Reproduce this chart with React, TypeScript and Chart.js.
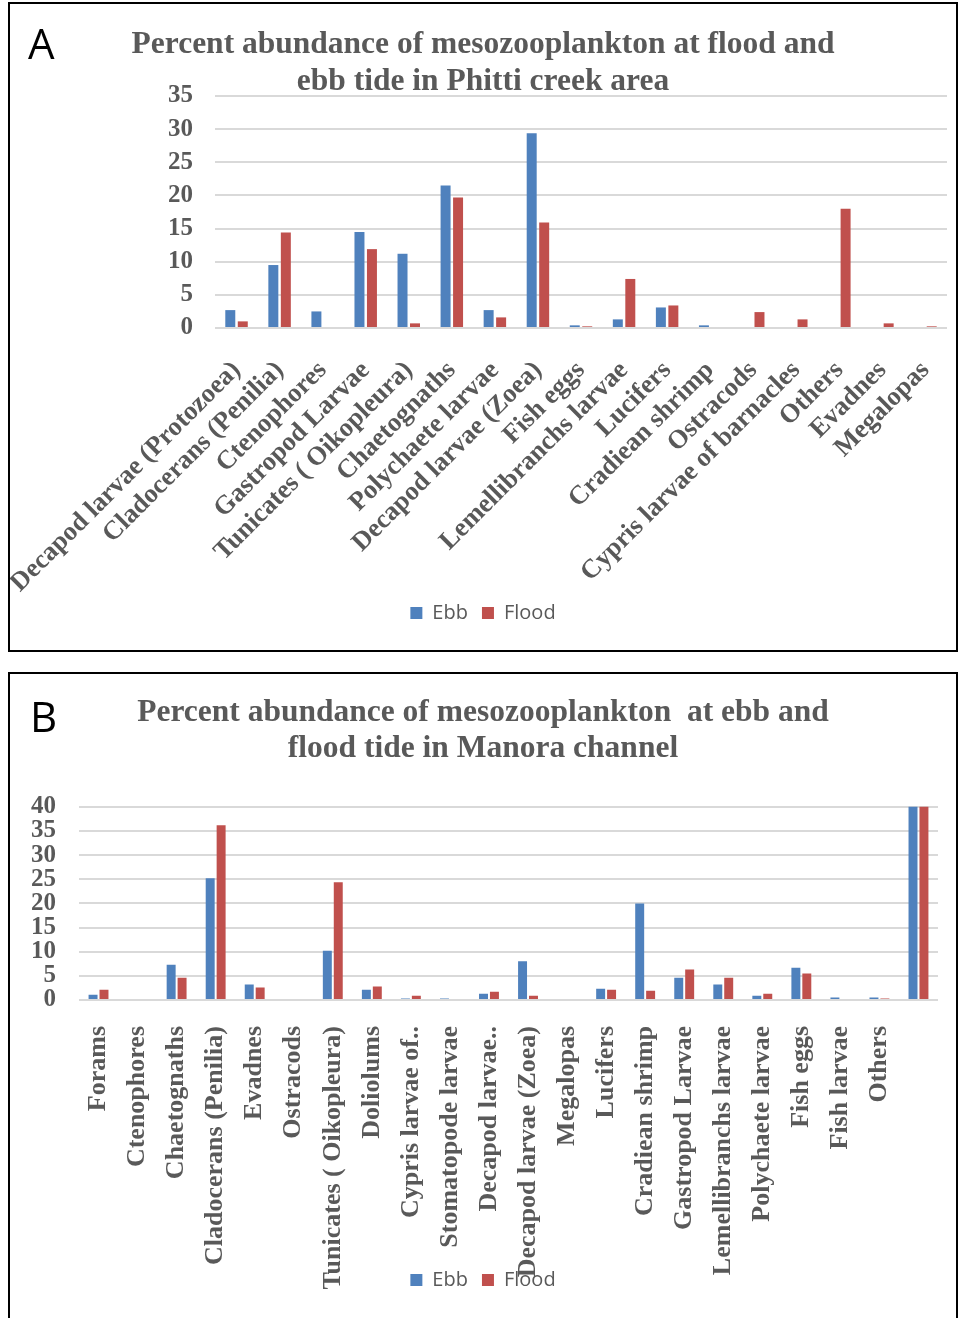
import React, { useEffect, useRef } from "react";
import { Chart, registerables } from "chart.js";

Chart.register(...registerables);

// ---------- Panel A data ----------
const titleA = [
  "Percent abundance of mesozooplankton at flood and",
  "ebb tide in Phitti creek area",
];
const categoriesA = [
  "Decapod larvae (Protozoea)",
  "Cladocerans (Penilia)",
  "Ctenophores",
  "Gastropod Larvae",
  "Tunicates ( Oikopleura)",
  "Chaetognaths",
  "Polychaete larvae",
  "Decapod larvae (Zoea)",
  "Fish eggs",
  "Lemellibranchs larvae",
  "Lucifers",
  "Cradiean shrimp",
  "Ostracods",
  "Cypris larvae of barnacles",
  "Others",
  "Evadnes",
  "Megalopas",
];
const ebbA = [2.7, 9.5, 2.5, 14.5, 11.2, 21.5, 2.7, 29.4, 0.4, 1.3, 3.1, 0.4, 0, 0, 0, 0, 0];
const floodA = [1.0, 14.4, 0, 11.9, 0.7, 19.7, 1.6, 15.9, 0.25, 7.4, 3.4, 0, 2.4, 1.3, 18.0, 0.7, 0.25];
const yTicksA = { min: 0, max: 35, step: 5 };

// ---------- Panel B data ----------
const titleB = [
  "Percent abundance of mesozooplankton  at ebb and",
  "flood tide in Manora channel",
];
const categoriesB = [
  "Forams",
  "Ctenophores",
  "Chaetognaths",
  "Cladocerans (Penilia)",
  "Evadnes",
  "Ostracods",
  "Tunicates ( Oikopleura)",
  "Doliolums",
  "Cypris larvae of..",
  "Stomatopode larvae",
  "Decapod larvae..",
  "Decapod larvae (Zoea)",
  "Megalopas",
  "Lucifers",
  "Cradiean shrimp",
  "Gastropod Larvae",
  "Lemellibranchs larvae",
  "Polychaete larvae",
  "Fish eggs",
  "Fish larvae",
  "Others",
  "",
];
const ebbB = [1.1, 0, 7.3, 25.2, 3.2, 0, 10.2, 2.1, 0.3, 0.3, 1.3, 8.0, 0, 2.35, 20.0, 4.6, 3.2, 0.9, 6.7, 0.5, 0.5, 100];
const floodB = [2.1, 0, 4.6, 36.2, 2.6, 0, 24.4, 2.8, 0.9, 0, 1.7, 0.9, 0, 2.1, 1.9, 6.3, 4.6, 1.3, 5.5, 0, 0.3, 100];
const yTicksB = { min: 0, max: 40, step: 5 };

const seriesNames = ["Ebb", "Flood"];
const seriesColors = ["#4F81BD", "#C0504D"];

const TEXT = "#595959";
const SERIF = '"Liberation Serif", "Times New Roman", serif';
const SANS = '"Open Sans", "Liberation Sans", sans-serif';

type PanelProps = {
  title: string[];
  labels: string[];
  ebb: number[];
  flood: number[];
  yt: { min: number; max: number; step: number };
  width: number;
  height: number;
  rotation: number;
  titlePad: { top: number; bottom: number };
  titleSize: number;
  titleLH: number;
  tickSize: number;
  xTickSize: number;
  yWidth: number;
  yPad: number;
  xHeight: number;
  xPad: number;
  padLeft: number;
  padRight: number;
  padBottom: number;
  cat: number;
  bar: number;
};

function ChartPanel(p: PanelProps) {
  const ref = useRef<HTMLCanvasElement>(null);
  useEffect(() => {
    if (!ref.current) return;
    const chart = new Chart(ref.current, {
      type: "bar",
      data: {
        labels: p.labels,
        datasets: [
          {
            label: seriesNames[0],
            data: p.ebb,
            backgroundColor: seriesColors[0],
            categoryPercentage: p.cat,
            barPercentage: p.bar,
          },
          {
            label: seriesNames[1],
            data: p.flood,
            backgroundColor: seriesColors[1],
            categoryPercentage: p.cat,
            barPercentage: p.bar,
          },
        ],
      },
      options: {
        responsive: false,
        animation: false,
        layout: { padding: { top: 0, right: p.padRight, bottom: p.padBottom, left: p.padLeft } },
        plugins: {
          title: {
            display: true,
            text: p.title,
            color: TEXT,
            font: { family: SERIF, size: p.titleSize, weight: "bold", lineHeight: p.titleLH },
            padding: p.titlePad,
          },
          legend: {
            position: "bottom",
            labels: {
              boxWidth: 12,
              boxHeight: 12,
              color: TEXT,
              font: { family: SANS, size: 20 },
              padding: 14,
            },
          },
          tooltip: { enabled: false },
        },
        scales: {
          x: {
            grid: { display: false, drawTicks: false },
            border: { display: false },
            ticks: {
              autoSkip: false,
              minRotation: p.rotation,
              maxRotation: p.rotation,
              color: TEXT,
              font: { family: SERIF, size: p.xTickSize, weight: "bold" },
              padding: p.xPad,
            },
            afterFit: (s: any) => {
              s.height = p.xHeight;
              s.paddingLeft = 0;
              s.paddingRight = 0;
              // let long category labels run past the axis box, as in the original
              s._computeLabelArea = () => undefined;
            },
          },
          y: {
            min: p.yt.min,
            max: p.yt.max,
            grid: { color: "#D9D9D9", lineWidth: 2, drawTicks: false },
            border: { display: false },
            ticks: {
              autoSkip: false,
              stepSize: p.yt.step,
              color: TEXT,
              font: { family: SERIF, size: p.tickSize, weight: "bold" },
              padding: p.yPad,
            },
            afterFit: (s: any) => {
              s.width = p.yWidth;
            },
          },
        },
      },
    });
    return () => chart.destroy();
  }, []);
  return (
    <canvas
      ref={ref}
      width={p.width}
      height={p.height}
      style={{ display: "block", width: p.width + "px", height: p.height + "px" }}
    />
  );
}

const panelStyle = (top: number, height: number): React.CSSProperties => ({
  position: "absolute",
  left: 8,
  top,
  width: 946,
  height,
  border: "2px solid #000",
  background: "#fff",
  overflow: "hidden",
});

const letterStyle = (left: number, top: number): React.CSSProperties => ({
  position: "absolute",
  left,
  top,
  fontFamily: SANS,
  fontSize: 42,
  lineHeight: "42px",
  color: "#000",
  zIndex: 2,
});

export default function App() {
  return (
    <div style={{ position: "absolute", left: 0, top: 0, width: 960, height: 1318, background: "#fff", overflow: "hidden" }}>
      <div style={panelStyle(2, 646)}>
        <ChartPanel
          title={titleA}
          labels={categoriesA}
          ebb={ebbA}
          flood={floodA}
          yt={yTicksA}
          width={946}
          height={646}
          rotation={45}
          titlePad={{ top: 22, bottom: -4 }}
          titleSize={31.5}
          titleLH={1.175}
          tickSize={25}
          xTickSize={26.5}
          yWidth={196}
          yPad={22}
          xHeight={261}
          xPad={27}
          padLeft={9}
          padRight={9}
          padBottom={17}
          cat={0.58}
          bar={0.8}
        />
      </div>
      <div style={letterStyle(28, 22)}>A</div>

      <div style={panelStyle(672, 680)}>
        <ChartPanel
          title={titleB}
          labels={categoriesB}
          ebb={ebbB}
          flood={floodB}
          yt={yTicksB}
          width={946}
          height={644}
          rotation={90}
          titlePad={{ top: 21, bottom: 40 }}
          titleSize={31.5}
          titleLH={1.14}
          tickSize={25}
          xTickSize={26}
          yWidth={51}
          yPad={23}
          xHeight={256}
          xPad={26}
          padLeft={18}
          padRight={18}
          padBottom={18}
          cat={0.56}
          bar={0.82}
        />
      </div>
      <div style={letterStyle(30, 695)}>B</div>
    </div>
  );
}
